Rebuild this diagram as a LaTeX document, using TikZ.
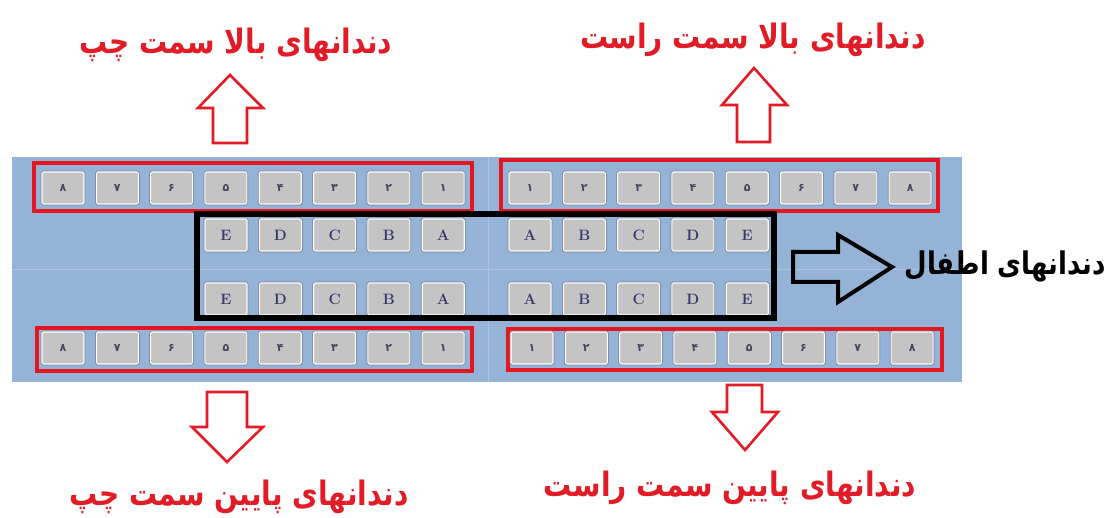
\documentclass[tikz,border=0pt]{standalone}
\usepackage{fontspec}
\newfontfamily\arabicfont[Script=Arabic]{DejaVu Sans}
\TeXXeTstate=1
\definecolor{panel}{RGB}{149,179,215}
\definecolor{panelline}{RGB}{172,196,224}
\definecolor{keyfill}{RGB}{196,196,196}
\definecolor{keyedge}{RGB}{118,126,145}
\definecolor{boxred}{RGB}{228,22,32}
\definecolor{txtred}{RGB}{226,28,38}
\definecolor{letter}{RGB}{55,55,105}
\definecolor{digit}{RGB}{70,70,95}
\newcommand{\tallR}[1]{\scalebox{1}[1.2]{\beginR #1\endR}}
\tikzset{
  key/.style={rectangle, rounded corners=1.5pt, fill=keyfill, draw=white, line width=1.1pt,
    preaction={draw=keyedge, line width=2.6pt},
    minimum width=42pt, minimum height=32pt, inner sep=0pt},
  digkey/.style={key, text=digit, font=\arabicfont\bfseries\fontsize{11}{12}\selectfont},
  letkey/.style={key, text=letter, font=\bfseries\fontsize{15}{16}\selectfont},
  redbox/.style={draw=boxred, line width=3.5pt},
  redarrow/.style={draw=txtred, line width=2.6pt, fill=white, line join=miter},
  redlabel/.style={text=txtred, font=\arabicfont\bfseries\fontsize{28}{32}\selectfont, inner sep=0pt},
}
\begin{document}
\begin{tikzpicture}[x=1pt,y=-1pt]
\useasboundingbox (0,0) rectangle (1107,518);
% panel
\fill[panel] (12,157) rectangle (962,382);
\draw[panelline, line width=1pt] (12,270) -- (962,270);
\draw[panelline, line width=1pt] (488,157) -- (488,382);
% red boxes
\draw[redbox] (34,163) rectangle (472,211);
\draw[redbox] (501,160) rectangle (938,211);
\draw[redbox] (37,328) rectangle (472,371);
\draw[redbox] (508,329) rectangle (942,370);
% keys upper/lower
\foreach \d [count=\i] in {۸,۷,۶,۵,۴,۳,۲,۱} {
  \node[digkey] (ul\i) at ({63+54.3*(\i-1)},188) {\beginR\d\endR};
  \node[digkey] (ll\i) at ({63+54.3*(\i-1)},348) {\beginR\d\endR};
}
\foreach \d [count=\i] in {۱,۲,۳,۴,۵,۶,۷,۸} {
  \node[digkey] (ur\i) at ({530+54.3*(\i-1)},188) {\beginR\d\endR};
  \node[digkey] (lr\i) at ({532+54.3*(\i-1)},348) {\beginR\d\endR};
}
% child keys
\foreach \l [count=\i] in {E,D,C,B,A} {
  \node[letkey] (cul\i) at ({226+54.3*(\i-1)},235) {\l};
  \node[letkey] (cll\i) at ({226+54.3*(\i-1)},299) {\l};
}
\foreach \l [count=\i] in {A,B,C,D,E} {
  \node[letkey] (cur\i) at ({530+54.3*(\i-1)},235) {\l};
  \node[letkey] (clr\i) at ({530+54.3*(\i-1)},299) {\l};
}
% black box
\draw[black, line width=6pt] (197,214) rectangle (774,318);
% black arrow
\draw[black, line width=4pt, line join=miter]
  (793,252) -- (838,252) -- (838,235) -- (892,267) -- (838,302) -- (838,282) -- (793,282) -- cycle;
\node[font=\arabicfont\bfseries\fontsize{26}{30}\selectfont, inner sep=0pt] (child) at (1005,266) {\tallR{دندانهای اطفال}};
% red arrows
\draw[redarrow] (230,75) -- (263,108) -- (247,108) -- (247,143) -- (213,143) -- (213,108) -- (198,108) -- cycle;
\draw[redarrow] (754,68) -- (787,105) -- (770,105) -- (770,142) -- (737,142) -- (737,105) -- (722,105) -- cycle;
\draw[redarrow] (207,392) -- (247,392) -- (247,427) -- (263,427) -- (227,462) -- (192,427) -- (207,427) -- cycle;
\draw[redarrow] (727,385) -- (762,385) -- (762,412) -- (778,412) -- (745,450) -- (712,412) -- (727,412) -- cycle;
% red labels
\node[redlabel] (tl) at (236,45) {\tallR{دندانهای بالا سمت چپ}};
\node[redlabel] (tr) at (753,40) {\tallR{دندانهای بالا سمت راست}};
\node[redlabel] (bl) at (239,497) {\tallR{دندانهای پایین سمت چپ}};
\node[redlabel] (br) at (730,488) {\tallR{دندانهای پایین سمت راست}};
\end{tikzpicture}
\end{document}
